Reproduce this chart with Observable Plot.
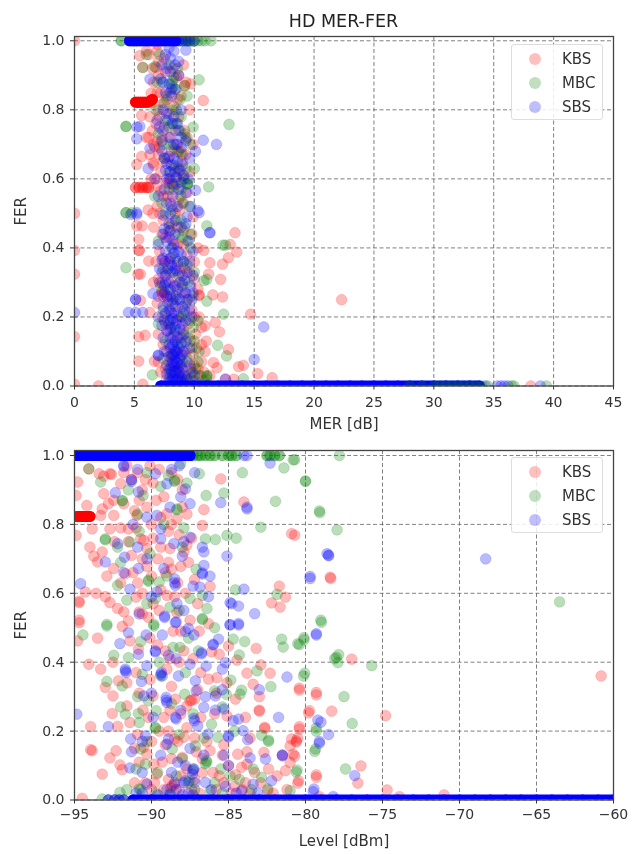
<!DOCTYPE html>
<html>
<head>
<meta charset="utf-8">
<script src="https://cdn.jsdelivr.net/npm/d3@7"></script>
<script src="https://cdn.jsdelivr.net/npm/@observablehq/plot@0.6"></script>
<style>
html,body{margin:0;padding:0;background:#fff}
#page{position:relative;width:642px;height:854px;overflow:hidden;font-family:"DejaVu Sans",sans-serif;filter:blur(0.7px)}
#title{height:28px;line-height:42px;padding-left:74px;width:539px;text-align:center;font-size:17.5px;color:#222}
svg{display:block}
.legend{position:absolute;left:511px;width:92px;height:76px;background:rgba(255,255,255,.85);border:1px solid #ddd;border-radius:3px;box-sizing:border-box}
.legend div{position:absolute;left:50px;font-size:15px;line-height:24px;color:#333}
.legend i{position:absolute;left:-33px;top:6px;width:12px;height:12px;border-radius:50%;display:block}
</style>
</head>
<body>
<div id="page"><div id="title">HD MER-FER</div></div>
<script>
const seriesNames = ["KBS", "MBC", "SBS"];
const seriesColors = ["red", "green", "blue"];
const merTicks = [0, 5, 10, 15, 20, 25, 30, 35, 40, 45];
const levelTicks = [-95, -90, -85, -80, -75, -70, -65, -60];
const ferTicks = [0, 0.2, 0.4, 0.6, 0.8, 1];

const merKBS = [[0,1],[0,.5],[0,.393],[0,.324],[0,.143],[0,.005],[2,0],[5.7,.005],[22.3,.25],[10.75,.827],
[5.45,.957],[5.7,.923],[6,.97],[6.8,.923],[8.5,.894],[9.7,.875],[9.2,.87],[6.4,.848],[5.6,.784],[6,.72],[6.7,.694],[8.6,.678],[5.6,.665],[5.2,.642],[6.55,.646],[6.15,.51],[6.55,.5],[7.9,.586],
[5.64,.464],[5.2,.464],[5.36,.425],[5.4,.393],[5.4,.393],[6.2,.362],[5.3,.324],[5.5,.324],[11.2,.324],[12.2,.309],[11.55,.264],[12.36,.258],[10.4,.264],[10.4,.262],[7.3,.275],[7.3,.27],[5.5,.248],[6.3,.213],[14.7,.208],[11.75,.184],[12.1,.157],[5.36,.143],[5.9,.147],[10.9,.174],[10.8,.393],[13.4,.444],[13.55,.388],[12.85,.372],[12.36,.353],[11.3,.357],[12.85,.106],[5.36,.072],[6.67,.072],[11.6,.068],[11.9,.053],[13.7,.056],[14.1,.06],[15.3,.036],[16.5,.024],[12.6,.02],[13.3,.02],[13,.41],[38.1,0],
[5.1,.575],[5.4,.575],[5.7,.575],[6,.575],[6.2,.575],[5.1,.575],[5.4,.575],[5.7,.575],[6,.575],[6.2,.575],
[6.2,.96],[7,.94],[7.6,.91],[8.7,.9],[9.3,.88],[6.6,.88],[7.2,.85],[8,.85],[8.9,.84],[7.4,.82],[8.3,.81],[7.9,.79],[6.3,.78],[6.8,.76],[7.5,.75],[8.4,.74],[9.2,.74],[6.2,.72],[6.6,.7],[7.1,.69],[8.1,.68],[8.9,.68],[9.3,.67],[7.8,.66],[6.6,.64],[7.2,.62],[8.7,.62],[9.1,.6],[7.7,.59],[6.9,.58],[8.3,.57],[7.4,.55],[8,.53],[6.9,.52],[8.8,.51],[7.4,.48],[8.1,.47],[9.1,.45],[7.6,.43],[8.6,.41],[7.1,.39],[9.4,.38],[8,.37],[7.6,.33],[8.8,.33],[9.6,.33],[7.3,.3],[8.3,.29],[9.2,.27],[7.8,.25],[8.7,.23],[9.8,.22],[7.3,.2],[8.5,.19],[9.5,.18],[7.8,.16],[8.9,.14],[10.1,.15],[7.4,.12],[8.4,.1],[9.3,.1],[10.2,.11],[10.9,.1],[7.9,.07],[8.9,.06],[10,.06],[10.6,.07],[8.3,.04],[9.4,.03],[10.4,.03],[11.3,.03],[7.7,.02],[8.8,.015],[9.9,.015],[10.8,.015],
[6.9,.97],[7.5,.95],[6.5,.92],[8.2,.92],[7,.9],[6.9,.85],[7.7,.83],[8.6,.83],[7,.8],[8.7,.78],[6.5,.74],[7.9,.72],[7.3,.72],[8.6,.7],[7,.67],[7.4,.65],[9,.65],[8.3,.63],[6.8,.6],[8,.6],[8.5,.585],[7.2,.565],[7.8,.55],[8.7,.54],[7.1,.5],[8.4,.5],[7.9,.45],[8.6,.46],[7.3,.44],[8.2,.42],[9.1,.41],[6.8,.36],[7.5,.36],[8.6,.35],[9.2,.34],[7,.31],[8.1,.31],[9,.3],[7.5,.27],[8.4,.26],[9.5,.25],[8,.22],[8.9,.2],[10,.2],[7.6,.18],[9.1,.16],[8.2,.14],[9.7,.13],[7.7,.1],[8.9,.09],[9.9,.09],[8.1,.08],[9.6,.06],[8.6,.05],[10.3,.05],[9,.03],[9.9,.04],[10.8,.04],
[6.9,.99],[9.1,.93],[9.6,.8],[9.9,.7],[6.4,.6],[9.4,.56],[9.9,.49],[6.6,.46],[9.8,.44],[10.3,.4],[6.6,.3],[10,.31],[10.3,.28],[6.9,.24],[10.4,.2],[7,.15],[10.6,.17],[7,.07],[11,.13],[7.2,.04],[7.6,.05],[7.4,.26],[7.6,.36],[6.4,.82],[7.1,.78],[9.4,.72],[6.9,.71],[6.3,.67],[9.6,.62],[9.1,.53],[10,.36],[10.6,.12]];
const merBarKBS = [[5.1,.822],[5.3,.822],[5.5,.822],[5.7,.822],[5.9,.822],[6.1,.822],[6.3,.825],[6.5,.83]];

const merMBC = [[3.9,1],[3.9,1],[9.7,1],[10,1],[10.3,1],[10.6,1],[10.9,1],[11.4,1],[9.9,.998],[10.4,.887],[9.2,.87],[12.9,.758],[4.3,.752],[4.3,.752],[11.2,.577],[9.45,.586],[9.45,.586],[9.9,.75],[10,.63],[4.3,.502],[4.3,.502],[4.8,.502],[5.7,.923],[9,.53],[9.3,.716],
[4.3,.343],[6.5,.032],[11.05,.464],[12.4,.408],[12.6,.408],[11.05,.246],[12.45,.208],[11.95,.118],[12.7,.087],[14.1,.021],[11.05,.309],[10.8,.305],[11.05,.029],[11.05,.029],[39.4,0],
[8.2,.885],[8.1,.875],[8.3,.895],[8.2,.865],[6,.96],[6.7,.925],[7.3,.88],[7.7,.84],[8.8,.83],[8.5,.8],[7.6,.77],[8.1,.76],[7.9,.75],[8.8,.74],[9.2,.73],[7,.73],[8,.7],[8.7,.68],[7.5,.66],[8.3,.64],[9.3,.63],[8.6,.6],[9.4,.585],[7.9,.57],[8.9,.55],[7.3,.53],[8.2,.51],[8.9,.48],[9.2,.46],[8.7,.44],[7,.42],[8.1,.4],[9.7,.4],[9.1,.36],[7.4,.34],[8.7,.32],[9.5,.3],[7.8,.28],[8.5,.26],[9.3,.24],[7.4,.22],[8.9,.2],[9.6,.19],[8.1,.17],[9.2,.15],[7.6,.13],[8.6,.12],[9.8,.11],[10.4,.1],[8.2,.09],[9.4,.08],[10.3,.07],[8.7,.05],[9.8,.04],[10.5,.03],[8,.03],[9.2,.02],[10.1,.015],[11,.02],
[7.1,.96],[7.9,.93],[8.6,.92],[6.9,.88],[8.5,.86],[7.5,.82],[8.2,.8],[8.9,.78],[8.5,.76],[7.4,.7],[8.3,.69],[9,.67],[7.9,.62],[8.7,.63],[9.2,.6],[8.3,.58],[8.9,.57],[7.6,.5],[8.5,.48],[7.9,.46],[9,.43],[9.4,.42],[8.4,.37],[9.4,.35],[8,.33],[9,.29],[8.2,.24],[9.1,.21],[7.8,.19],[8.4,.16],[9.5,.14],[8.9,.12],[10,.13],[9,.07],[7.9,.05],[9.6,.02],[8.5,.02],
[9.7,.44],[10,.33],[9.9,.26],[7.2,.29],[7,.18],[10.3,.19],[9.9,.17],[10.1,.05],[7.4,.08],[9.7,.7],[6.7,.55],[9.6,.52],[6.8,.8],[9.4,.84]];

const merSBS = [[9.3,.973],[5.2,.75],[5.45,.752],[5.2,.716],[6.3,.688],[10.75,.712],[11.85,.7],[10.1,.68],[10.1,.567],[10.3,.508],[6.15,.63],[5.2,.502],[6.3,.889],[9.4,.49],
[5.1,.251],[5.1,.251],[6.55,.268],[4.5,.213],[5.1,.213],[5.7,.213],[0,.213],[15.8,.171],[15,.077],[7,.089],[7,.089],[11.3,.444],[11.3,.444],[10.4,.502],[4.7,.497],[5.2,.497],[12.6,.02],[38.9,0],
[7.6,.96],[8,.95],[8.4,.93],[7.7,.92],[8,.91],[8.7,.9],[7.2,.89],[7.4,.88],[7.9,.875],[8.4,.86],[8.1,.84],[7.7,.79],[8.9,.8],[8.2,.76],[7.1,.75],[7.4,.74],[8.7,.74],[8.9,.72],[8,.72],[8.5,.7],[9.3,.71],[7.5,.66],[7.9,.665],[8.3,.66],[7.7,.645],[8.1,.64],[7.6,.625],[8,.62],[8.4,.62],[8.8,.625],[9.1,.61],[8.5,.605],[9.5,.6],[7.9,.6],[8.9,.59],[8.2,.55],[7.7,.53],[8.6,.52],[8,.5],[7.4,.495],[8.4,.48],[9.3,.47],[7.5,.455],
[7.4,.44],[7.9,.43],[8.3,.41],[7.6,.39],[8.3,.385],[8,.37],[7.3,.365],[8.6,.36],[9.1,.36],[7.1,.34],[8.5,.335],[7.6,.32],[9.2,.305],[8.8,.3],[8.4,.29],[9.7,.29],[7.5,.27],[8.2,.25],[9.4,.25],[7.8,.24],[8.4,.23],[7.6,.21],[8.2,.195],[9.8,.2],[9.3,.19],[7.3,.175],[8,.165],[8.8,.165],[7.7,.16],[8.4,.13],[8.9,.125],[8.3,.11],[8.6,.095],[7.9,.085],[9,.09],[8.2,.07],[8.6,.065],[8,.05],[8.5,.045],[9,.05],[7.7,.035],[8.2,.03],[8.7,.03],[9.2,.03],[8,.015],[8.4,.015],[8.9,.015],
[7.9,.98],[8.3,.97],[8.7,.94],[7.3,.93],[8.1,.86],[7.6,.85],[7.4,.8],[8.3,.78],[7.8,.77],[6.9,.77],[8.6,.76],[7.3,.71],[8.3,.7],[8.9,.69],[7.3,.68],[8.6,.65],[9,.64],[7.7,.6],[8.2,.585],[8.7,.57],[7.5,.57],[8.1,.52],[7.9,.47],[8.9,.46],[8,.45],[8.4,.44],[7.7,.42],[8.2,.4],[8.7,.39],[7.4,.37],[7.9,.36],[8.9,.38],[7.3,.33],[8.2,.33],[9,.32],[7.9,.3],[7.5,.29],[8.6,.28],[9.3,.27],[8,.26],[8.8,.25],[9,.23],[7.4,.23],[8.1,.21],[8.7,.2],[7.9,.18],[8.4,.17],[9.1,.15],[8,.14],[8.6,.14],[8.2,.12],[8,.11],[8.5,.1],[8.8,.08],[8.1,.09],[8.4,.08],[8.3,.06],[8.8,.06],[8.1,.04],[8.4,.04],[8.8,.04],[7.9,.02],[8.2,.02],[8.6,.02],[9,.02],[9.4,.02],[8.1,.06],[8.5,.07],[8.3,.09],
[9.5,.42],[9.9,.39],[7,.41],[7.1,.3],[9.6,.36],[9.9,.32],[9.4,.33],[7,.26],[9.8,.25],[9.9,.27],[9.6,.22],[7,.2],[7.4,.14],[9.3,.13],[9.6,.11],[9.4,.07],[9.7,.05],[7.7,.06],[10,.03],[7.5,.1],[9.6,.66],[9.3,.56],[9.7,.52],[6.7,.6],[7,.55],[7.8,.34],[8.1,.35],[8.4,.34],[7.6,.3],[8,.28],[7.7,.26],[8.5,.25],[9,.27],[7.9,.22],[8.3,.21],[9.2,.22],[7.5,.19],[8.5,.18],[9,.18],[8,.19],[8.3,.15],[7.9,.12],[8.7,.11],[9.1,.1]];

const merTopSBS = [4.6,4.9,5.2,5.5,5.8,6.1,6.4,6.7,7,7.3,7.6,7.9,8.2,8.45];
const merTopMBCx = [8.7,9,9.3,9.5];
const merTopEdgeSBS = [8.7,9,9.3,9.6,10];
const merZeroSBS = [7.2,8,9,10,11,12,13,14,15,16,17,18,19,20,21,22,23,24,25,26,27,28,29,30,31,32,33,33.8];
const merZeroMBC = [28,29,30,30.5,31,31.5,32,32.5,33,33.5,34,34.5,36.5,36.7];
const merZeroEdgeSBS = [34.3,35.3,35.6,35.9,36.2];

const levelKBS = [[-94.07,.961],[-93.4,.947],[-92.7,.947],[-92,.918],[-93.1,.889],[-92.45,.87],[-94.2,.855],[-94.9,.884],[-94.8,.923],[-93.3,.826],[-93.2,.845],[-92.45,.826],[-90.95,.826],[-89,.831],[-88.35,.816],[-93.85,.787],[-92.7,.787],[-92,.79],[-91.5,.787],[-94.9,.768],[-90.7,.758],[-90.5,.754],[-94,.734],[-93.2,.72],[-93.75,.708],[-93.5,.691],[-91.3,.71],[-92.45,.672],[-91.7,.657],[-90.3,.678],[-88.9,.69],[-88.1,.678],[-89.4,.734],[-88.8,.73],[-86.7,.797],[-85.5,.932],[-86.6,.843],[-84,.865],[-80.9,.773],[-94.3,.604],[-93.6,.6],[-94.7,.577],[-94.7,.573],[-92.7,.573],[-92.2,.556],[-91.8,.546],[-91,.589],[-90.8,.546],[-90.6,.54],[-89,.594],[-82.2,.572],[-81.7,.621],[-81.3,.589],[-81.65,.56],[-94.7,.522],[-88.35,.544],[-86.3,.512],[-91.9,.504],[-87.5,.522],[-78.4,.647],[-92.6,.945],[-91.3,.93],[-90.6,.9],[-89.9,.92],[-89.2,.88],[-90.3,.85],[-89.7,.87],[-91,.79],[-90,.8],[-88.7,.8],[-88.2,.77],[-87.4,.76],[-89.1,.66],[-88.3,.63],[-87.2,.64],[-90,.65],[-89.4,.61],[-90.6,.6],
[-94.7,.515],[-94.8,.462],[-94.07,.394],[-93,.327],[-92.5,.302],[-92.55,.251],[-91.6,.273],[-90.55,.261],[-91.4,.225],[-92.2,.214],[-93.95,.213],[-93.95,.146],[-93.85,.143],[-92.3,.143],[-92.7,.122],[-92.05,.102],[-91.9,.088],[-93.2,.075],[-94.5,.005],[-91.4,.462],[-90.85,.438],[-89.1,.433],[-87.9,.433],[-85.6,.423],[-85,.447],[-83.2,.44],[-84.45,.406],[-83.8,.368],[-82.9,.392],[-82.3,.368],[-83.4,.336],[-83,.3],[-84.55,.293],[-80.4,.325],[-79.3,.312],[-83,.261],[-83,.258],[-79.75,.259],[-82.65,.211],[-82.65,.208],[-80.4,.213],[-80.9,.177],[-80.5,.18],[-81,.157],[-80.8,.133],[-81,.109],[-81.3,.085],[-81.85,.07],[-80.45,.056],[-79.3,.073],[-82.7,.138],[-87.5,.288],[-87.2,.293],[-87.7,.273],[-87.4,.29],[-88.5,.177],[-87.9,.182],[-88,.124],[-89.65,.075],[-89.85,.104],[-88.65,.042],[-88.5,.045],[-88.75,.035],[-84.4,.133],[-85,.1],[-84.55,.073],[-84.15,.095],[-83.8,.104],[-85.1,.244],[-89.9,.302],[-88.45,.293],[-92.15,.346],[-86.3,.351],[-85.75,.355],[-82.45,.027],[-86.2,.143],[-90.3,.133],[-90.5,.153],[-87.2,.18],[-88.7,.12],[-88.1,.07],[-87.4,.03],[-87.1,.14],[-86,.08],[-85.3,.05],[-84.6,.04],[-83.9,.05],[-89.2,.03],[-90.4,.05],[-90,.17],[-89.5,.2],
[-60.8,.36],[-80.7,.769],[-78.36,.643],[-77,.409],[-80.4,.319],[-79.3,.305],[-79.8,.253],[-78.3,.258],[-74.8,.245],[-80.4,.206],[-80.6,.172],[-80.6,.168],[-80.7,.127],[-76.4,.099],[-76.6,.049],[-79.3,.066],[-80.5,.049],[-74.7,.029],[-73.9,.01],[-71,.015],[-79.1,.01],
[-91.6,.97],[-90.9,.95],[-90.1,.97],[-89.5,.96],[-88.7,.95],[-88,.9],[-91.8,.86],[-90.8,.87],[-87.7,.83],[-88,.85],[-91.5,.75],[-89.9,.76],[-88.9,.78],[-87.9,.72],[-90.6,.7],[-89.6,.7],[-87.6,.69],[-92,.63],[-90.9,.63],[-87.8,.6],[-88.5,.59],[-87,.57],[-90.2,.53],[-89.5,.55],[-86.9,.49],[-88.6,.49],[-90.1,.47],[-88.8,.41],[-88.2,.4],[-87.3,.41],[-86.8,.37],[-91,.37],[-90.1,.35],[-88.7,.33],[-90.8,.31],[-85.8,.31],[-88.1,.25],[-86.8,.24],[-89.2,.24],[-85.9,.25],[-88.9,.2],[-87.7,.21],[-86.4,.17],[-90.9,.19],[-89.1,.16],[-85.3,.16],[-83.6,.18],[-90.8,.11],[-89.3,.11],[-87.7,.09],[-86.7,.08],[-85.4,.13],[-83.3,.08],[-82.9,.05],[-91.1,.05],[-90,.03],[-88.9,.06],[-88.2,.03],[-86.9,.02],[-85.8,.03],[-84.8,.02],[-83.6,.02],[-82.1,.02],[-81.2,.03],
[-93.1,.94],[-91.8,.95],[-90.4,.93],[-88.3,.93],[-92.8,.86],[-91.1,.84],[-89.4,.82],[-92.4,.75],[-90.3,.73],[-87.7,.74],[-92.9,.65],[-91.2,.66],[-88.7,.67],[-86.2,.62],[-93,.59],[-91.5,.52],[-89.9,.57],[-88.1,.49],[-93.5,.47],[-92.5,.4],[-89.6,.45],[-86.1,.43],[-93.3,.38],[-91.6,.34],[-89,.38],[-85.1,.34],[-90.2,.24],[-87,.32],[-88.8,.26],[-83.9,.24],[-91.1,.15],[-88.3,.17],[-86.7,.12],[-83.8,.14],[-89.8,.05],[-87.2,.06],[-85.6,.07],[-84.1,.03],[-82.4,.09],[-81.5,.13]];
const levelBarKBS = [[-94.8,.823],[-94.6,.823],[-94.4,.823],[-94.2,.823],[-94,.823]];

const levelMBC = [[-93.3,.923],[-94.07,.961],[-93,.758],[-93,.755],[-92.2,.734],[-92.2,.623],[-91.4,.749],[-90.2,.638],[-90.2,.635],[-89.5,.633],[-90.3,.57],[-89.75,.585],[-88.5,.928],[-88.5,.925],[-88.9,.942],[-88.1,.976],[-86.9,.947],[-86.45,.884],[-85.3,.891],[-84.1,.95],[-81.4,.964],[-80.8,.987],[-80,.926],[-81.95,.867],[-79.1,.839],[-82.9,.792],[-85.1,.768],[-84.5,.76],[-85.85,.756],[-86.5,.758],[-88,.734],[-90.1,.715],[-84.55,.61],[-81.85,.597],[-79,.522],[-87.5,.585],[-86.7,.594],[-86.4,.556],[-86.7,.527],[-86.7,.524],[-88.8,.56],[-92.9,.51],[-89.85,.51],[-88.35,.845],[-88.35,.842],[-91.9,.87],[-91.9,.868],[-90.55,.884],[-90.9,.83],[-91.5,.9],
[-92.9,.505],[-94.45,.479],[-89.85,.505],[-92.45,.42],[-91.5,.413],[-88.6,.443],[-88.15,.443],[-86.95,.433],[-84.7,.467],[-83.95,.46],[-84.3,.421],[-81.55,.467],[-81.45,.444],[-80.5,.454],[-80.1,.471],[-80.05,.368],[-82.25,.329],[-83.15,.375],[-84.85,.348],[-84.15,.319],[-84.25,.307],[-85.15,.307],[-85.9,.317],[-87.85,.307],[-92.9,.344],[-91.9,.331],[-90.2,.288],[-89.7,.259],[-91.7,.249],[-90.85,.251],[-90.8,.225],[-86.1,.22],[-89.75,.211],[-89.75,.208],[-82.85,.188],[-82.4,.174],[-82.4,.17],[-80.55,.087],[-79.35,.148],[-79.3,.209],[-86.45,.114],[-86.4,.11],[-86.5,.105],[-87.15,.157],[-88.65,.148],[-90.4,.104],[-90.7,.148],[-82.85,.066],[-90.8,.032],[-90.7,.03],[-92.05,.022],[-87.55,.056],[-87.6,.05],[-86.2,.027],[-82.45,.032],[-81,.027],[-85.7,.182],[-90.6,.365],[-89.4,.36],[-93.2,.003],[-88.4,.07],[-87.3,.09],[-85.5,.09],[-84.3,.06],
[-77.8,1],[-80,.925],[-79.07,.834],[-77.95,.784],[-80.7,.988],[-78.97,.516],[-80.1,.465],[-80.4,.451],[-78,.414],[-77.85,.422],[-77.9,.399],[-78.1,.41],[-75.7,.39],[-80.13,.36],[-77.5,.3],[-76.97,.222],[-79.3,.2],[-79.4,.141],[-77.4,.09],[-80.6,.081],[-63.5,.575],
[-90.3,.95],[-89.4,.91],[-87.7,.92],[-90.8,.78],[-89.2,.8],[-87.9,.79],[-92,.69],[-89,.65],[-87.1,.67],[-91.6,.58],[-88.2,.55],[-85.9,.5],[-90.7,.46],[-87.6,.47],[-89.5,.4],[-87.8,.37],[-90.9,.3],[-88.7,.28],[-87.3,.25],[-92,.27],[-85.4,.27],[-88.2,.19],[-86.6,.18],[-84.6,.2],[-90.3,.17],[-91,.09],[-89.6,.08],[-88,.12],[-85.9,.05],[-84.9,.07],[-83.4,.09],[-89.7,.02],[-88.8,.02],[-87.2,.03],[-85.4,.02],[-83.5,.03],[-91.6,.03]];

const levelSBS = [[-91.8,.971],[-91.8,.968],[-87.2,.95],[-91.3,.93],[-91.3,.925],[-92.35,.892],[-90.85,.894],[-89.75,.947],[-89,.918],[-87.8,.903],[-88.1,.88],[-82.3,.978],[-83.8,.85],[-83.8,.845],[-85.5,.863],[-90.3,.821],[-89.65,.826],[-89.4,.787],[-89.4,.758],[-92.2,.744],[-90.9,.734],[-93,.691],[-91.75,.705],[-90.85,.672],[-91.8,.66],[-89.2,.672],[-88.55,.744],[-87.5,.763],[-86.7,.734],[-86.6,.72],[-88,.708],[-85.1,.708],[-86.6,.681],[-86.7,.659],[-86.7,.656],[-88.5,.642],[-88.45,.623],[-88.5,.63],[-87.3,.621],[-86.85,.618],[-89.65,.604],[-91.4,.612],[-94.6,.628],[-84,.612],[-84.8,.57],[-84.9,.573],[-84.35,.563],[-83.3,.541],[-88.35,.57],[-89.15,.534],[-89.15,.53],[-88.4,.517],[-84.9,.509],[-84.35,.512],[-79.7,.649],[-78.6,.715],[-87.6,.498],[-83.8,1],[-84,1],
[-92.05,.454],[-91.5,.486],[-90.35,.479],[-89.3,.479],[-87.8,.489],[-87.25,.479],[-88.45,.515],[-84.9,.508],[-84.35,.508],[-79.3,.483],[-85.65,.467],[-86,.452],[-86,.45],[-89.75,.433],[-89.75,.43],[-90.85,.423],[-86.75,.428],[-86.75,.424],[-91.7,.38],[-91.7,.375],[-91.65,.37],[-89.35,.37],[-89.3,.36],[-89.4,.365],[-88.25,.36],[-87.5,.394],[-86.45,.389],[-85.4,.38],[-85.2,.399],[-81.2,.357],[-90.65,.344],[-87.15,.346],[-87.1,.317],[-83,.32],[-89.05,.298],[-89,.283],[-89.05,.29],[-90.5,.302],[-85.85,.302],[-86.6,.269],[-85.85,.261],[-85.3,.264],[-94.85,.249],[-88.45,.24],[-88.4,.235],[-87.25,.237],[-87.2,.23],[-87,.215],[-84.7,.23],[-84.35,.235],[-81.75,.24],[-92.8,.213],[-79.2,.232],[-84.05,.201],[-83.75,.175],[-85,.186],[-85,.183],[-90.4,.186],[-91.35,.177],[-91.3,.14],[-88.9,.177],[-89,.162],[-86.35,.191],[-79.1,.17],[-81.5,.131],[-81.5,.128],[-83.6,.122],[-82.6,.119],[-91.4,.093],[-90.6,.08],[-87.25,.09],[-87.3,.085],[-87.35,.075],[-87.8,.056],[-87.9,.05],[-85,.1],[-86.5,.051],[-83.4,.046],[-82.2,.056],[-84.15,.027],[-79.45,.032],[-90.3,.046],[-89,.03],[-88.4,.03],[-87.6,.02],
[-78.5,.711],[-78.5,.709],[-79.7,.643],[-79.3,.479],[-79,.226],[-78.5,.19],[-79.1,.165],[-76.8,.071],[-79.5,.024],[-78.2,.01],[-68.3,.7],
[-88.2,.97],[-88.7,.96],[-90.9,.96],[-87.5,.86],[-88.8,.85],[-91.2,.8],[-87.9,.75],[-90.3,.7],[-86.2,.65],[-90,.59],[-87.9,.55],[-86.3,.59],[-90.8,.54],[-88.9,.42],[-88.4,.41],[-90.3,.39],[-90,.31],[-85.4,.32],[-88.1,.26],[-86.5,.3],[-89.9,.24],[-90.6,.17],[-89.4,.13],[-87.5,.15],[-88.3,.11],[-86.6,.13],[-85.3,.13],[-88.7,.08],[-87.8,.1],[-88.5,.05],[-87.2,.05],[-86.1,.03],[-85.2,.04],[-84.5,.02],[-83.1,.02],[-89.6,.015],[-88.8,.015],[-88,.015],[-87.3,.015],[-90.6,.02],[-91,.02]];

const levelTopSBS = [-95,-94,-93,-92,-91,-90,-89,-88,-87.5];
const levelTopMBCx = [-87.3,-87,-86.8,-86.5,-86.2,-85.9,-85.4,-85,-84.8,-84.5,-82.5,-82.3,-82,-81.7];
const levelZeroSBS = [-91.2,-90,-89,-88,-87,-86,-85,-84,-83,-82,-81,-80,-79,-78,-77,-76,-75,-74,-73,-72,-71,-70,-69,-68,-67,-66,-65,-64,-63,-62,-61,-60];
const levelZeroEdge = [-91.8,-92.1,-92.4,-92.8];

const pts = (a) => a.map(([x, y]) => ({x, y}));
const row = (a, y) => a.map((x) => ({x, y}));
const soft = (data, color) => Plot.dot(data, {x: "x", y: "y", r: 5.4, fill: color, fillOpacity: 0.27, stroke: color, strokeOpacity: 0.15, strokeWidth: 1, clip: true});
const solid = (data, color) => Plot.dot(data, {x: "x", y: "y", r: 5.5, fill: color, clip: true});
const band = (data, color) => Plot.line(data, {x: "x", y: "y", stroke: color, strokeWidth: 11, clip: true});

function panel({height, marginTop, marginBottom, xDomain, yMax, xTicks, xLabel, layers, labelOffset, tickPadding}) {
  const grid = {stroke: "#555", strokeOpacity: 0.75, strokeDasharray: "4,2.5", strokeWidth: 1};
  return Plot.plot({
    width: 642, height, marginLeft: 74, marginRight: 29, marginTop, marginBottom,
    style: {background: "transparent", fontFamily: "DejaVu Sans", overflow: "visible"},
    x: {domain: xDomain, ticks: xTicks},
    y: {domain: [0, yMax]},
    marks: [
      Plot.gridX(xTicks, grid),
      Plot.gridY(ferTicks, grid),
      ...layers,
      Plot.frame({stroke: "#444", strokeWidth: 1.3}),
      Plot.axisX({ticks: xTicks, tickSize: 4, tickPadding, fontSize: 14, color: "#333", label: null}),
      Plot.axisY({ticks: ferTicks, tickSize: 4, tickPadding: 6, fontSize: 14, color: "#333", tickFormat: (d) => d.toFixed(1), label: null}),
      Plot.axisX({ticks: [], tickSize: 0, fontSize: 15, color: "#333", label: xLabel, labelAnchor: "center", labelArrow: "none", labelOffset}),
      Plot.axisY({ticks: [], tickSize: 0, fontSize: 15, color: "#333", label: "FER", labelAnchor: "center", labelArrow: "none", labelOffset: 59})
    ]
  });
}

const page = document.getElementById("page");
page.append(panel({
  height: 402, marginTop: 8, marginBottom: 44.5, xDomain: [0, 45], yMax: 1.0124, xTicks: merTicks, xLabel: "MER [dB]", labelOffset: 43, tickPadding: 7,
  layers: [
    soft(pts(merKBS), "red"), solid(pts(merBarKBS), "red"), band(pts(merBarKBS), "red"),
    soft(pts(merMBC), "green"), soft(row(merTopMBCx, 1), "green"), soft(row(merTopMBCx, 1), "green"),
    soft(pts(merSBS), "blue"), soft(row(merTopEdgeSBS, 1), "blue"), soft(row(merZeroEdgeSBS, 0), "blue"),
    solid(row(merTopSBS, 1), "blue"), band(row(merTopSBS, 1), "blue"),
    solid(row(merZeroSBS, 0), "blue"), band(row(merZeroSBS, 0), "blue"),
    soft(row(merZeroMBC, 0), "green")
  ]
}));
page.append(panel({
  height: 424, marginTop: 20, marginBottom: 54.5, xDomain: [-95, -60], yMax: 1.0145, xTicks: levelTicks, xLabel: "Level [dBm]", labelOffset: 46, tickPadding: 5,
  layers: [
    soft(pts(levelKBS), "red"), solid(pts(levelBarKBS), "red"), band(pts(levelBarKBS), "red"),
    soft(pts(levelMBC), "green"), soft(row(levelTopMBCx, 1), "green"), soft(row(levelTopMBCx, 1), "green"),
    soft(row(levelZeroEdge, 0), "green"),
    soft(pts(levelSBS), "blue"), soft(row(levelZeroEdge, 0), "blue"), soft(row(levelZeroEdge, 0), "blue"),
    solid(row(levelTopSBS, 1), "blue"), band(row(levelTopSBS, 1), "blue"),
    solid(row(levelZeroSBS, 0), "blue"), band(row(levelZeroSBS, 0), "blue")
  ]
}));

for (const top of [44, 457]) {
  const box = document.createElement("div");
  box.className = "legend";
  box.style.top = top + "px";
  seriesNames.forEach((name, i) => {
    const item = document.createElement("div");
    item.style.top = (2 + i * 24) + "px";
    item.textContent = name;
    const dot = document.createElement("i");
    dot.style.background = seriesColors[i];
    dot.style.opacity = 0.25;
    item.append(dot);
    box.append(item);
  });
  page.append(box);
}
</script>
</body>
</html>
